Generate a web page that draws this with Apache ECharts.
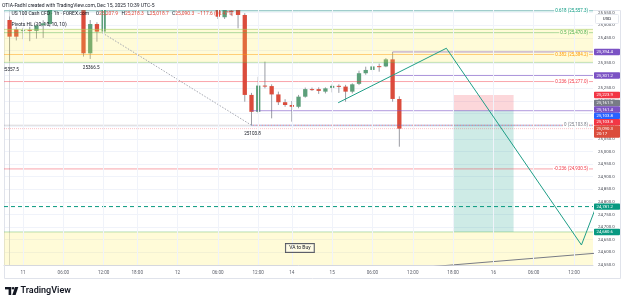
<!DOCTYPE html>
<html><head><meta charset="utf-8">
<script src="https://cdn.jsdelivr.net/npm/echarts@6/dist/echarts.min.js"></script>
<style>html,body{margin:0;padding:0;background:#fff}#c{width:625px;height:304px}</style>
</head><body><div id="c"></div>
<script>
// ---- DATA (hourly bars; slot 0 = Dec 10 22:00, session gaps removed, future slots continuous) ----
const candles = [ // [open, close, low, high]
 [25521,25455,25357.5,25535],[25484,25455,25440,25494],[25477,25481,25445,25490],[25482,25478,25437,25494],
 [25478,25500,25447,25505],[25500,25508,25450,25520],[25505,25610,25495,25625],[25610,25655,25590,25670],
 [25655,25640,25615,25690],[25640,25680,25620,25700],[25680,25590,25575,25695],[25590,25389,25376,25600],
 [25389,25505,25366.5,25521],[25505,25475,25435,25512],[25475,25580,25466,25600],[25580,25640,25570,25660],
 [25640,25700,25620,25715],[25700,25690,25660,25730],[25690,25720,25675,25740],[25720,25735,25700,25750],
 [25735,25760,25725,25775],[25760,25745,25730,25770],[25745,25770,25735,25785],[25770,25790,25760,25800],
 [25790,25780,25765,25805],[25780,25800,25770,25815],[25800,25790,25775,25820],[25790,25815,25780,25830],
 [25815,25825,25800,25837.7],[25825,25760,25745,25830],[25760,25640,25620,25775],[25640,25534,25525,25660],
 [25532,25575,25525,25590],[25558,25553,25538,25600],[25600,25541,25488,25610],[25541,25224,25197,25548],
 [25224,25157,25103.8,25232],[25157,25261,25151,25296],[25261,25259,25250,25356],[25259,25226,25131,25266],
 [25226,25195,25184,25237],[25195,25184,25177,25207],[25184,25177,25118,25200],[25177,25217,25171,25224],
 [25217,25247,25213,25253],[25247,25245,25240,25253],[25247,25240,25228,25254],[25237,25250,25230,25254],
 [25252,25260,25234,25266],[25260,25258,25232,25266],[25257,25237,25197,25264],[25237,25266,25230,25270],
 [25268,25310,25263,25320],[25310,25323,25304,25336],[25323,25337,25316,25348],[25338,25336,25316,25348],
 [25337,25365,25334,25370],[25365,25208,25197,25394.4],[25207.9,25090.3,25018.7,25218.3]
];
const timeLabelSlots = [2,8,14,19,25,31,37,42,48,54,60,66,72,78,84];
const timeLabels = ['11','06:00','12:00','18:00','12','06:00','12:00','14','15','06:00','12:00','18:00','16','06:00','12:00'];
const fibRatios = ['0.618','0.5','0.382','0.236','0','-0.236'];
const fibPrices = [25557.3,25470.8,25384.2,25277.0,25103.8,24930.5];
const topZone = [25353,25484];
const vaZone = [24480,24680.6];
const positionSlots = [66,75];
const positionPrices = [25223.9,25161.9,24680.6]; // stop, entry, target
const projection = [[48.9,25193],[65,25409],[85.1,24629],[87.6,24803]];
const pivotZigzag = [[13.8,25470],[36,25103.8]];
const trendLine = [[60,24537],[88,24598]];
const pivotLows = [[0,25357.5],[12,25366.5],[36,25103.8]];
const purpleRays = [[57,25394.4],[57.4,25301.2],[36,25161.4]];
const pivotRay = [36,25103.8];
const targetLevel = 24781.2;
const lastPrice = 25090.3;
const countdown = '20:17';

// ---- CHART ----
const FONT = 'Roboto, "Liberation Sans", sans-serif';
const xMin = -0.83, xMax = 86.82, yMin = 24550, yMax = 25560.7;
const UP = '#5c9f7a', DOWN = '#db4c3c', WICK = '#9a9ca3';
const PURPLE = '#7b52c4', RED = '#f23645', GREY = '#787b86', BLUE = '#2962ff', TEAL = '#089981';
const fibColors = ['#089981','#4caf50','#ff9800','#f23645','#787b86','#f23645'];
const fibAlpha = [0.45,0.45,0.45,0.45,0.3,0.45];
const fmt = v => v.toLocaleString('en-US',{minimumFractionDigits:1,maximumFractionDigits:1});

const chart = echarts.init(document.getElementById('c'), null, {renderer:'canvas', width:625, height:304});

function seg(points, color, width, type, z){
  return {type:'line', data:points, showSymbol:false, symbol:'none', silent:true, clip:true, z:z||4,
    animation:false, lineStyle:{color:color, width:width, type:type||'solid'}};
}
const series = [];
series.push({type:'line', data:[], z:0, silent:true, markLine:{silent:true, symbol:'none', animation:false,
  label:{show:false}, lineStyle:{color:'#f0f3fa', width:1, type:'solid'},
  data: timeLabelSlots.map(s=>({xAxis:s}))}});
series.push({type:'custom', z:2, clip:true, silent:true, animation:false,
  data: candles.map((c,i)=>[i,c[0],c[1],c[2],c[3]]), encode:{x:0,y:[1,2,3,4]},
  renderItem:function(params, api){
    const x=api.value(0), o=api.value(1), c=api.value(2), l=api.value(3), h=api.value(4);
    const pO=api.coord([x,o]), pC=api.coord([x,c]), pL=api.coord([x,l]), pH=api.coord([x,h]);
    const w=api.size([1,0])[0]*0.64;
    const top=Math.min(pO[1],pC[1]), bot=Math.max(pO[1],pC[1]);
    return {type:'group', children:[
      {type:'line', shape:{x1:pH[0],y1:pH[1],x2:pL[0],y2:pL[1]}, style:{stroke:WICK, lineWidth:1}},
      {type:'rect', shape:{x:pO[0]-w/2, y:top, width:w, height:Math.max(bot-top,1)}, style:{fill:c>=o?UP:DOWN}}
    ]};
  }});
const rects = [
  [xMin,xMax,topZone[0],topZone[1]],
  [xMin,xMax,vaZone[0],vaZone[1]],
  [positionSlots[0],positionSlots[1],positionPrices[1],positionPrices[0]],
  [positionSlots[0],positionSlots[1],positionPrices[2],positionPrices[1]]
];
const rectFills = ['rgba(255,235,59,0.2)','rgba(255,235,59,0.2)','rgba(242,54,69,0.2)','rgba(8,153,129,0.2)'];
series.push({type:'custom', z:3, clip:true, silent:true, animation:false, data:rects, encode:{x:[0,1],y:[2,3]},
  renderItem:function(params, api){
    const a=api.coord([api.value(0),api.value(3)]), b=api.coord([api.value(1),api.value(2)]);
    return {type:'rect', shape:{x:a[0],y:a[1],width:b[0]-a[0],height:b[1]-a[1]}, style:{fill:rectFills[params.dataIndex]}};
  }});
// zone borders
series.push(seg([[xMin,topZone[1]],[xMax,topZone[1]]],'rgba(160,200,90,0.55)',1));
series.push(seg([[xMin,topZone[0]],[xMax,topZone[0]]],'rgba(76,175,80,0.35)',1));
series.push(seg([[xMin,vaZone[1]],[xMax,vaZone[1]]],'rgba(76,175,80,0.4)',1));
// fib lines
fibPrices.forEach((p,i)=>series.push(seg([[xMin,p],[xMax,p]], echarts.color.modifyAlpha(fibColors[i],fibAlpha[i]),1)));
// rays
purpleRays.forEach(r=>series.push(seg([[r[0],r[1]],[xMax,r[1]]],'rgba(123,82,196,0.6)',1)));
series.push(seg([[pivotRay[0],pivotRay[1]],[xMax,pivotRay[1]]],'rgba(41,98,255,0.6)',1,[1,2]));
series.push(seg([[pivotRay[0]+0.2,pivotRay[1]],[xMax,pivotRay[1]]],'rgba(242,54,69,0.6)',1,[1,2]));
series.push(seg([[xMin,lastPrice],[xMax,lastPrice]],'rgba(242,54,69,0.3)',1,[1,1]));
series.push(seg([[xMin,targetLevel],[xMax,targetLevel]],TEAL,1,[4,3]));
series.push(seg(pivotZigzag,'#a3a6af',1,[1.5,1.5]));
series.push(seg(trendLine,'#787b86',1));
series.push(seg(projection,'#1f9e87',1,'solid',5));
// pivot labels
series.push({type:'custom', z:6, clip:true, silent:true, animation:false, data:pivotLows,
  renderItem:function(params, api){
    const p=api.coord([api.value(0),api.value(1)]);
    return {type:'text', x:p[0]+1, y:p[1]+8.5, style:{text:String(api.value(1)), fill:'#131722',
      fontSize:4.6, fontFamily:FONT, align:'center', verticalAlign:'middle'}};
  }});

const option = {
  animation:false,
  grid:{left:4, right:32, top:10, bottom:39.1, containLabel:false},
  xAxis:{type:'value', min:xMin, max:xMax,
    axisLine:{show:true, lineStyle:{color:'#d6d8de', width:1}},
    axisTick:{show:false, customValues:timeLabelSlots},
    splitLine:{show:false},
    axisLabel:{customValues:timeLabelSlots, fontSize:4.6, fontFamily:FONT, color:'#5d606b', margin:5,
      formatter:v=>{const i=timeLabelSlots.indexOf(Math.round(v)); return i>=0?timeLabels[i]:'';}}},
  yAxis:{type:'value', position:'right', min:yMin, max:yMax, interval:50,
    axisLine:{show:true, lineStyle:{color:'#d6d8de', width:1}},
    axisTick:{show:false},
    splitLine:{show:true, lineStyle:{color:'#f0f3fa', width:1}},
    axisLabel:{fontSize:4.4, fontFamily:FONT, color:'#4a4d57', margin:5, align:'left', formatter:v=>fmt(v)}},
  series:series
};
chart.setOption(option);

// ---- overlays positioned through the chart scales ----
const px = (x,y)=>chart.convertToPixel({xAxisIndex:0,yAxisIndex:0},[x,y]);
const gridR = px(xMax,yMin)[0], gridL = px(xMin,yMin)[0], gridT = px(xMin,yMax)[1], gridB = px(xMin,yMin)[1];
const g = [];
// frame
g.push({type:'rect', shape:{x:gridL+0.5, y:gridT+0.5, width:620-gridL, height:278-gridT}, style:{fill:'none', stroke:'#e0e3eb', lineWidth:1}, z:1});
// fib labels
fibPrices.forEach((p,i)=>{
  const y=px(xMax,p)[1];
  const inZone = p>topZone[0] && p<topZone[1];
  g.push({type:'text', x:gridR-4, y:y, z:50, style:{text:fibRatios[i]+' ('+fmt(p)+')', fill:fibColors[i], fontSize:4.5, fontFamily:FONT,
    align:'right', verticalAlign:'middle', backgroundColor:inZone?'#fffbd8':'#ffffff', padding:[0,1]}});
});
// price tags with stacking
const tags = [
  {v:purpleRays[0][1], c:PURPLE},{v:purpleRays[1][1], c:PURPLE},{v:positionPrices[0], c:RED},
  {v:positionPrices[1], c:GREY},{v:purpleRays[2][1], c:PURPLE},{v:fibPrices[4], c:RED},
  {v:pivotRay[1], c:BLUE},{v:lastPrice, c:DOWN, sub:countdown, anchor:true},
  {v:targetLevel, c:TEAL},{v:positionPrices[2], c:TEAL}
];
const H=6.4;
tags.forEach(t=>t.ny=px(xMax,t.v)[1]);
const anchor = tags.find(t=>t.anchor);
anchor.y=anchor.ny; anchor.top=anchor.y-H/2; anchor.bot=anchor.y+H/2+5.8;
let prevTop=anchor.top;
tags.filter(t=>!t.anchor && t.ny<=anchor.ny).sort((a,b)=>b.ny-a.ny).forEach(t=>{
  t.y=Math.min(t.ny, prevTop-H/2); t.top=t.y-H/2; t.bot=t.y+H/2; prevTop=t.top;});
let prevBot=anchor.bot;
tags.filter(t=>!t.anchor && t.ny>anchor.ny).sort((a,b)=>a.ny-b.ny).forEach(t=>{
  t.y=Math.max(t.ny, prevBot+H/2); t.top=t.y-H/2; t.bot=t.y+H/2; prevBot=t.bot;});
tags.forEach(t=>{
  g.push({type:'rect', z:60, shape:{x:gridR+1, y:t.top, width:26, height:t.bot-t.top, r:0.8}, style:{fill:t.c}});
  g.push({type:'text', z:61, x:gridR+3.5, y:t.y, style:{text:fmt(t.v), fill:'#fff', fontSize:4.3, fontFamily:FONT, align:'left', verticalAlign:'middle'}});
  if(t.sub) g.push({type:'text', z:61, x:gridR+3.5, y:t.y+5.6, style:{text:t.sub, fill:'#fff', fontSize:4.3, fontFamily:FONT, align:'left', verticalAlign:'middle'}});
});
// USD box
const usdBox={top:14.5,bot:23.5};
g.push({type:'rect', z:60, shape:{x:gridR+2.5, y:usdBox.top, width:23, height:usdBox.bot-usdBox.top, r:1}, style:{fill:'#fff', stroke:'#e0e3eb', lineWidth:0.8}});
g.push({type:'text', z:61, x:gridR+14, y:19, style:{text:'USD', fill:'#131722', fontSize:4.4, fontFamily:FONT, align:'center', verticalAlign:'middle'}});
// VA to Buy
const va = px(43.2, 24617);
g.push({type:'text', z:55, x:va[0], y:va[1], style:{text:'VA to Buy', fill:'#131722', fontSize:5.0, fontFamily:FONT,
  align:'center', verticalAlign:'middle', backgroundColor:'rgba(255,255,255,0.35)', borderColor:'#4a4d57', borderWidth:0.6, padding:[1.8,3.6]}});
// header + legend
g.push({type:'text', z:70, x:2, y:6, style:{text:'OTIA-Fadhl created with TradingView.com, Dec 15, 2025 10:39 UTC-5', fill:'#131722', fontSize:5.0, fontFamily:FONT, verticalAlign:'middle'}});
g.push({type:'text', z:70, x:11.5, y:14, style:{text:'{a|US 100 Cash CFD · 1h · FOREX.com}  {a|O}{r|25,207.9} {a|H}{r|25,218.3} {a|L}{r|25,018.7} {a|C}{r|25,090.3} {r|−117.6 (−0.47%)}',
  verticalAlign:'middle', rich:{a:{fill:'#131722', fontSize:4.95, fontFamily:FONT}, r:{fill:'#e0473a', fontSize:4.95, fontFamily:FONT}}}});
g.push({type:'text', z:70, x:11.5, y:24.5, style:{text:'Pivots HL (10, 10, 10, 10)', fill:'#131722', fontSize:5.0, fontFamily:FONT, verticalAlign:'middle'}});
// logo
g.push({type:'group', z:70, children:[
  {type:'rect', shape:{x:5,y:287,width:6.2,height:2.4}, style:{fill:'#131722'}},
  {type:'rect', shape:{x:8.6,y:287,width:2.6,height:8}, style:{fill:'#131722'}},
  {type:'circle', shape:{cx:13.1,cy:288.3,r:1.3}, style:{fill:'#131722'}},
  {type:'polygon', shape:{points:[[15,287],[18.3,287],[15.6,295],[12.3,295]]}, style:{fill:'#131722'}}
]});
g.push({type:'text', z:70, x:20.5, y:291, style:{text:'TradingView', fill:'#131722', fontSize:9, fontWeight:600, fontFamily:FONT, verticalAlign:'middle'}});

// hide axis labels covered by tags
const boxes = tags.map(t=>[t.top,t.bot]).concat([[usdBox.top,usdBox.bot]]);
const hideY = v=>{const y=px(xMax,v)[1]; if(y<gridT+5) return true;
  return boxes.some(b=>Math.abs(y-(b[0]+b[1])/2)<(b[1]-b[0])/2+1);};
chart.setOption({graphic:g, yAxis:{axisLabel:{formatter:v=>hideY(v)?'':fmt(v)}}});
</script></body></html>
